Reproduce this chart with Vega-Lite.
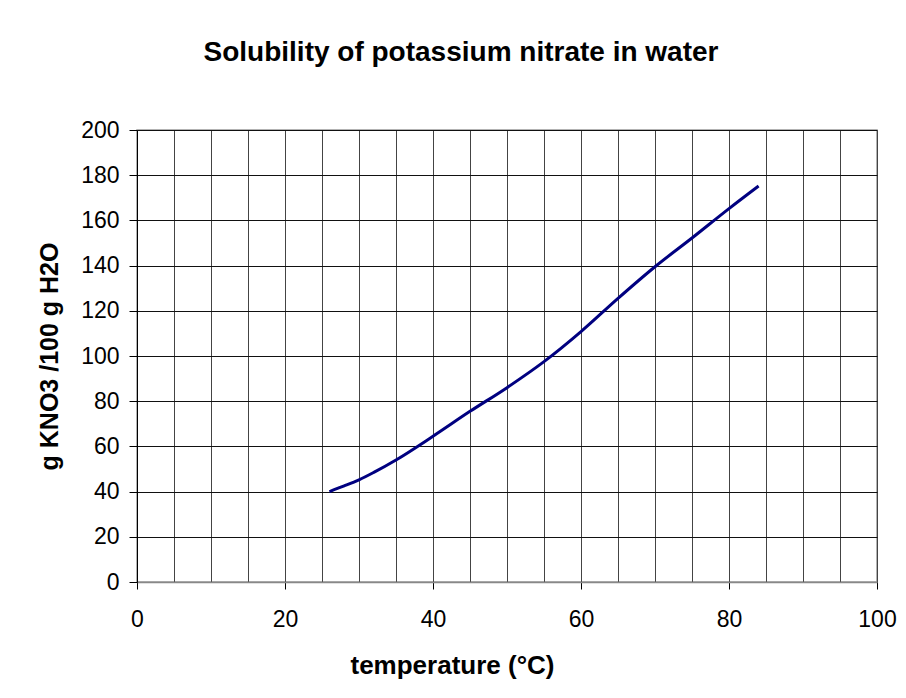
{
  "$schema": "https://vega.github.io/schema/vega-lite/v6.json",
  "width": 740,
  "height": 452,
  "autosize": {"type": "none"},
  "padding": {"left": 137, "top": 130, "right": 29, "bottom": 116},
  "background": "white",
  "title": {
    "text": "Solubility of potassium nitrate in water",
    "font": "Liberation Sans",
    "fontSize": 28,
    "fontWeight": "bold",
    "color": "black",
    "anchor": "middle",
    "frame": "group",
    "dx": -46,
    "baseline": "alphabetic",
    "offset": 30
  },
  "data": {
    "values": [
      {"temperature": 26, "solubility": 40},
      {"temperature": 28, "solubility": 42.5},
      {"temperature": 30, "solubility": 45.2},
      {"temperature": 32, "solubility": 48.5},
      {"temperature": 35, "solubility": 54},
      {"temperature": 40, "solubility": 64.5},
      {"temperature": 45, "solubility": 75.5},
      {"temperature": 50, "solubility": 86},
      {"temperature": 55, "solubility": 97.5},
      {"temperature": 60, "solubility": 110.8},
      {"temperature": 65, "solubility": 125.5},
      {"temperature": 70, "solubility": 139.5},
      {"temperature": 75, "solubility": 152.2},
      {"temperature": 80, "solubility": 165.2},
      {"temperature": 84, "solubility": 175.2}
    ]
  },
  "mark": {"type": "line", "color": "#000080", "strokeWidth": 3, "interpolate": "monotone"},
  "encoding": {
    "x": {
      "field": "temperature",
      "type": "quantitative",
      "scale": {"domain": [0, 100], "nice": false, "zero": false},
      "axis": {
        "values": [0, 5, 10, 15, 20, 25, 30, 35, 40, 45, 50, 55, 60, 65, 70, 75, 80, 85, 90, 95, 100],
        "labelExpr": "datum.value % 20 === 0 ? datum.label : ''",
        "labelOverlap": false,
        "labelFlush": false,
        "grid": true,
        "gridColor": "#444444",
        "gridWidth": 1,
        "gridOpacity": 1,
        "ticks": true,
        "tickSize": 7,
        "tickColor": "black",
        "tickWidth": 1,
        "tickOpacity": {"condition": {"test": "datum.value % 20 === 0", "value": 1}, "value": 0},
        "domainColor": "#888888",
        "domainWidth": 1.5,
        "labelFont": "Liberation Sans",
        "labelFontSize": 23,
        "labelColor": "black",
        "labelPadding": 19,
        "title": "temperature (°C)",
        "titleFont": "Liberation Sans",
        "titleFontSize": 26,
        "titleFontWeight": "bold",
        "titleColor": "black",
        "titleX": 315,
        "titleY": 91,
        "titleBaseline": "alphabetic",
        "titleAlign": "center"
      }
    },
    "y": {
      "field": "solubility",
      "type": "quantitative",
      "scale": {"domain": [0, 200], "nice": false},
      "axis": {
        "values": [0, 20, 40, 60, 80, 100, 120, 140, 160, 180, 200],
        "labelOverlap": false,
        "labelFlush": false,
        "grid": true,
        "gridColor": "#111111",
        "gridWidth": 1,
        "gridOpacity": 1,
        "tickSize": 8,
        "tickColor": "black",
        "domainColor": "black",
        "domainWidth": 1,
        "labelFont": "Liberation Sans",
        "labelFontSize": 23,
        "labelColor": "black",
        "labelPadding": 10,
        "title": "g KNO3 /100 g H2O",
        "titleFont": "Liberation Sans",
        "titleFontSize": 25,
        "titleFontWeight": "bold",
        "titleColor": "black",
        "titleX": -80,
        "titleY": 226,
        "titleAngle": -90,
        "titleBaseline": "alphabetic",
        "titleAlign": "center"
      }
    }
  },
  "config": {
    "view": {"stroke": "#999999", "strokeWidth": 1.5}
  }
}
